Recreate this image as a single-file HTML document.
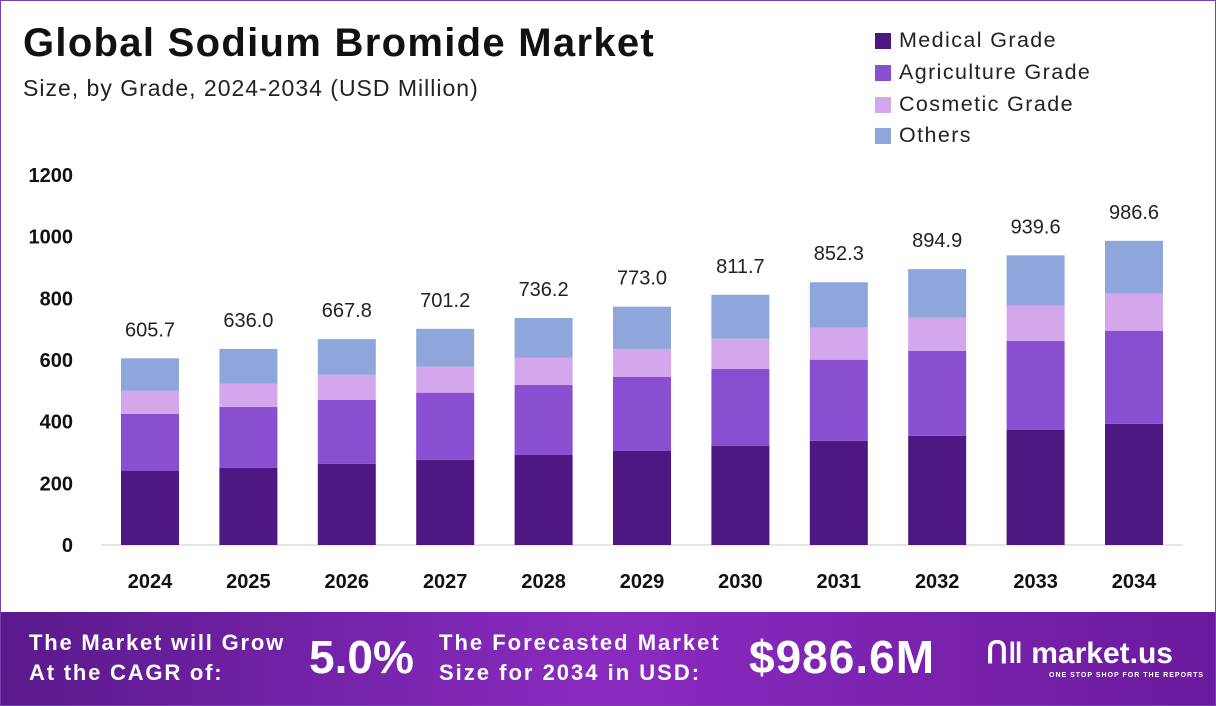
<!DOCTYPE html>
<html><head><meta charset="utf-8"><style>
body{margin:0;width:1216px;height:706px;overflow:hidden;font-family:"Liberation Sans",sans-serif;background:#fff}
#wrap{position:relative;width:1214px;height:704px;border:1px solid #7a3fb0;background:#fff}
.title{position:absolute;left:22px;top:20px;font-size:40px;letter-spacing:1.3px;font-weight:bold;color:#111}
.sub{position:absolute;left:22px;top:74px;font-size:23px;letter-spacing:1px;color:#222}
.leg{position:absolute;left:874px;font-size:21.5px;letter-spacing:1.4px;color:#222}
.leg span{display:inline-block;width:16px;height:16px;margin-right:8px;vertical-align:-2px}
#foot{position:absolute;left:0;top:611px;width:1214px;height:93px;background:linear-gradient(90deg,#5a1a8c,#8a2bc0 50%,#6a1a9c);color:#fff;font-weight:bold}
#foot div{position:absolute}
</style></head><body><div id="wrap">
<div class="title">Global Sodium Bromide Market</div>
<div class="sub">Size, by Grade, 2024-2034 (USD Million)</div>
<div class="leg" style="top:27px"><span style="background:#4e1782"></span>Medical Grade</div>
<div class="leg" style="top:59px"><span style="background:#8a4fd0"></span>Agriculture Grade</div>
<div class="leg" style="top:91px"><span style="background:#d4a6ec"></span>Cosmetic Grade</div>
<div class="leg" style="top:122px"><span style="background:#8fa6dc"></span>Others</div>
<svg id="chart" width="1216" height="611" style="position:absolute;left:0;top:0"></svg>
<div id="foot">
<div style="left:28px;top:16px;font-size:22px;line-height:30px;letter-spacing:1.8px">The Market will Grow<br>At the CAGR of:</div>
<div style="left:308px;top:18px;font-size:46px">5.0%</div>
<div style="left:438px;top:16px;font-size:22px;line-height:30px;letter-spacing:2px">The Forecasted Market<br>Size for 2034 in USD:</div>
<div style="left:748px;top:18px;font-size:46px;letter-spacing:1px">$986.6M</div>
<div style="left:985px;top:24px;font-size:30px">ᑎ‖ market.us</div>
<div style="left:1048px;top:60px;font-size:7px;letter-spacing:1px">ONE STOP SHOP FOR THE REPORTS</div>
</div>
<script>
const years=["2024","2025","2026","2027","2028","2029","2030","2031","2032","2033","2034"];
const medical=[240,250,263,276,292,305,321,338,354,373,393];
const agriculture=[185,198,208,218,227,240,250,263,276,289,302];
const cosmetic=[75,75,81,84,88,91,98,104,107,114,120];
const others=[105.7,113,115.8,123.2,129.2,137,142.7,147.3,157.9,163.6,171.6];
const totals=["605.7","636.0","667.8","701.2","736.2","773.0","811.7","852.3","894.9","939.6","986.6"];
const ticks=[0,200,400,600,800,1000,1200];
const NS="http://www.w3.org/2000/svg",svg=document.getElementById('chart');
const y=v=>544-v*0.3083, x=i=>149+i*98.4, bw=58;
function el(t,a){const e=document.createElementNS(NS,t);for(const k in a)e.setAttribute(k,a[k]);svg.appendChild(e);return e;}
const ax=el('line',{x1:100,x2:1182,y1:544,y2:544,stroke:'#ccc'});


ticks.forEach(t=>{const e=el('text',{x:72,y:y(t)+7,'text-anchor':'end','font-size':20,'font-weight':'bold',fill:'#111'});e.textContent=t;

});
const series=[[medical,'#4e1782','medical'],[agriculture,'#8a4fd0','agriculture'],[cosmetic,'#d4a6ec','cosmetic'],[others,'#8fa6dc','others']];
years.forEach((yr,i)=>{let base=0;
series.forEach(([arr,c,n])=>{const r=el('rect',{x:x(i)-bw/2,y:y(base+arr[i]),width:bw,height:y(base)-y(base+arr[i]),fill:c});


base+=arr[i];});
const l=el('text',{x:x(i),y:y(base)-22,'text-anchor':'middle','font-size':20,fill:'#222'});l.textContent=totals[i];


const xl=el('text',{x:x(i),y:587,'text-anchor':'middle','font-size':20,'font-weight':'bold',fill:'#111'});xl.textContent=yr;

});
</script>
</div></body></html>
